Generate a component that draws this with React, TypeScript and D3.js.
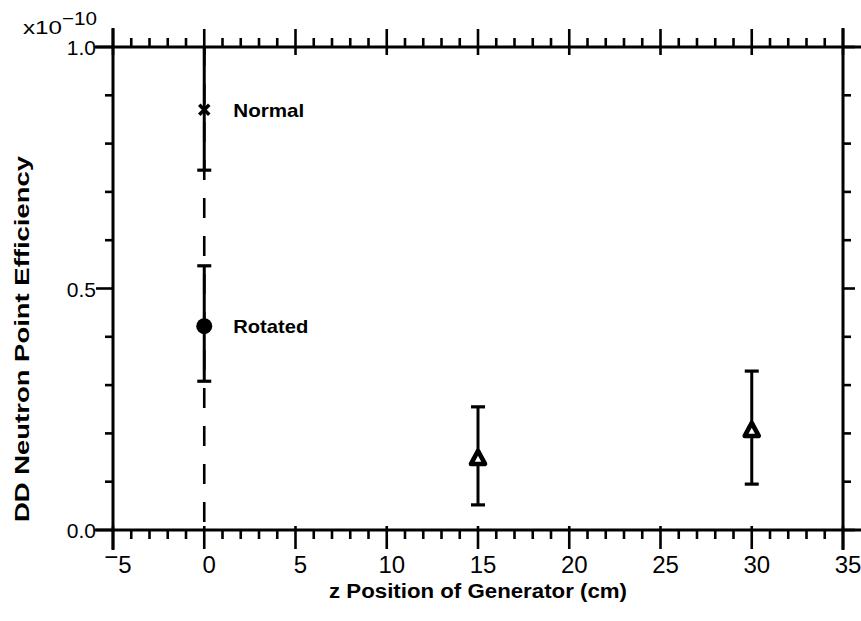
import React from 'react';
import * as d3 from 'd3';

// ---- data ----
const xTickValues = [-5, 0, 5, 10, 15, 20, 25, 30, 35];
const xTickLabels = ['5', '0', '5', '10', '15', '20', '25', '30', '35'];
const yTickValues = [0, 0.5, 1.0];
const yTickLabels = ['0.0', '0.5', '1.0'];
const pointZ = [0, 0, 15, 30];
const pointEff = [0.87, 0.422, 0.147, 0.205];
const pointLow = [0.745, 0.308, 0.052, 0.095];
const pointHigh = [1.0, 0.547, 0.255, 0.329];
const pointMarker = ['x', 'circle', 'triangle', 'triangle'];
const pointLabel = ['Normal', 'Rotated', '', ''];
const pointLabelWidth = [71, 75, 0, 0];

const W = 861;
const H = 621;
const M = { left: 113, right: 18, top: 47, bottom: 91 };

export default function App() {
  const x = d3.scaleLinear().domain([-5, 35]).range([M.left, W - M.right]);
  const y = d3.scaleLinear().domain([0, 1]).range([H - M.bottom, M.top]);
  const x0 = x.range()[0], x1 = x.range()[1];
  const y0 = y.range()[0], y1 = y.range()[1];
  const xMinor = d3.range(-5, 35.001, 1);
  const yMinor = d3.range(0, 1.0001, 0.1);
  const font = '"Liberation Sans", Arial, sans-serif';
  const sw = 2.6;

  return (
    <svg width={W} height={H} style={{ position: 'absolute', left: 0, top: 0, background: '#fff' }}>
      <rect x={0} y={0} width={W} height={H} fill="#fff" />
      <g stroke="#000" strokeLinecap="butt">
        {/* frame */}
        <line x1={x0 - 18} x2={W} y1={y1} y2={y1} strokeWidth={3} />
        <line x1={x0 - 18} x2={W} y1={y0} y2={y0} strokeWidth={3} />
        <line x1={x0} x2={x0} y1={y1 - 19} y2={y0 + 20} strokeWidth={3} />
        <line x1={x1} x2={x1} y1={y1 - 19} y2={y0 + 20} strokeWidth={3} />
        {/* x ticks */}
        {xMinor.map((v) => {
          const major = Math.abs(v % 5) < 1e-6;
          return (
            <g key={'xt' + v}>
              <line x1={x(v)} x2={x(v)} y1={y0 - (major ? 4 : 0)} y2={y0 + (major ? 19 : 9)} strokeWidth={sw} />
              <line x1={x(v)} x2={x(v)} y1={y1 + (major ? 8 : 0)} y2={y1 - (major ? 18 : 9)} strokeWidth={sw} />
            </g>
          );
        })}
        {/* y ticks */}
        {yMinor.map((v) => {
          const major = Math.abs((v * 10) % 5) < 1e-6 || Math.abs((v * 10) % 5 - 5) < 1e-6;
          return (
            <g key={'yt' + v.toFixed(1)}>
              <line x1={x0} x2={x0 - (major ? 17 : 8)} y1={y(v)} y2={y(v)} strokeWidth={sw} />
              <line x1={x1} x2={x1 + (major ? 12 : 8)} y1={y(v)} y2={y(v)} strokeWidth={sw} />
            </g>
          );
        })}
        {/* dashed reference line at z = 0 */}
        <line x1={x(0)} x2={x(0)} y1={y(0)} y2={y(1)} strokeWidth={2.6} strokeDasharray="20 18" strokeDashoffset={30} />
        {/* error bars */}
        {pointZ.map((z, i) => (
          <g key={'eb' + i}>
            <line x1={x(z)} x2={x(z)} y1={y(pointLow[i])} y2={y(pointHigh[i])} strokeWidth={3} />
            <line x1={x(z) - 7} x2={x(z) + 7} y1={y(pointLow[i])} y2={y(pointLow[i])} strokeWidth={3.2} />
            {pointHigh[i] < 1 && (
              <line x1={x(z) - 7} x2={x(z) + 7} y1={y(pointHigh[i])} y2={y(pointHigh[i])} strokeWidth={3.2} />
            )}
          </g>
        ))}
        {/* markers */}
        {pointZ.map((z, i) => {
          const cx = x(z), cy = y(pointEff[i]);
          if (pointMarker[i] === 'x') {
            return (
              <g key={'mk' + i} strokeWidth={3.6}>
                <line x1={cx - 5} x2={cx + 5} y1={cy - 5} y2={cy + 5} />
                <line x1={cx - 5} x2={cx + 5} y1={cy + 5} y2={cy - 5} />
              </g>
            );
          }
          if (pointMarker[i] === 'circle') {
            return <circle key={'mk' + i} cx={cx} cy={cy} r={8} fill="#000" stroke="none" />;
          }
          const s = 14;
          const h = 13;
          const p = `M${cx},${cy - h * 0.62} L${cx + s / 2},${cy + h * 0.38} L${cx - s / 2},${cy + h * 0.38} Z`;
          return <path key={'mk' + i} d={p} fill="#fff" strokeWidth={4.6} strokeLinejoin="round" />;
        })}
      </g>
      {/* point labels */}
      {pointZ.map((z, i) =>
        pointLabel[i] ? (
          <text key={'pl' + i} x={x(z) + 29} y={y(pointEff[i]) + 7} fontFamily={font} fontWeight="bold" fontSize={18.5}
            textLength={pointLabelWidth[i]} lengthAdjust="spacingAndGlyphs">
            {pointLabel[i]}
          </text>
        ) : null
      )}
      {/* x tick labels */}
      {xTickValues.map((v, i) => (
        <text key={'xl' + v} x={x(v) + 5} y={y0 + 43} textAnchor="middle" fontFamily={font} fontSize={24}>
          {v < 0 ? (
            <>
              <tspan dy={-8}>−</tspan>
              <tspan dy={8}>{xTickLabels[i]}</tspan>
            </>
          ) : (
            xTickLabels[i]
          )}
        </text>
      ))}
      {/* y tick labels */}
      {yTickValues.map((v, i) => (
        <text key={'yl' + v} x={x0 - 17} y={y(v) + 8} textAnchor="end" fontFamily={font} fontSize={21}>
          {yTickLabels[i]}
        </text>
      ))}
      {/* exponent */}
      <text x={23} y={34} fontFamily={font} fontSize={19} textLength={39} lengthAdjust="spacingAndGlyphs">x10</text>
      <text x={62} y={25} fontFamily={font} fontSize={19} textLength={35} lengthAdjust="spacingAndGlyphs">−10</text>
      {/* axis titles */}
      <text x={(x0 + x1) / 2} y={598} textAnchor="middle" fontFamily={font} fontWeight="bold" fontSize={19.5}
        textLength={298} lengthAdjust="spacingAndGlyphs">
        z Position of Generator (cm)
      </text>
      <text transform={`translate(29,${339}) rotate(-90)`} textAnchor="middle" fontFamily={font} fontWeight="bold" fontSize={20}
        textLength={366} lengthAdjust="spacingAndGlyphs">
        DD Neutron Point Efficiency
      </text>
    </svg>
  );
}
